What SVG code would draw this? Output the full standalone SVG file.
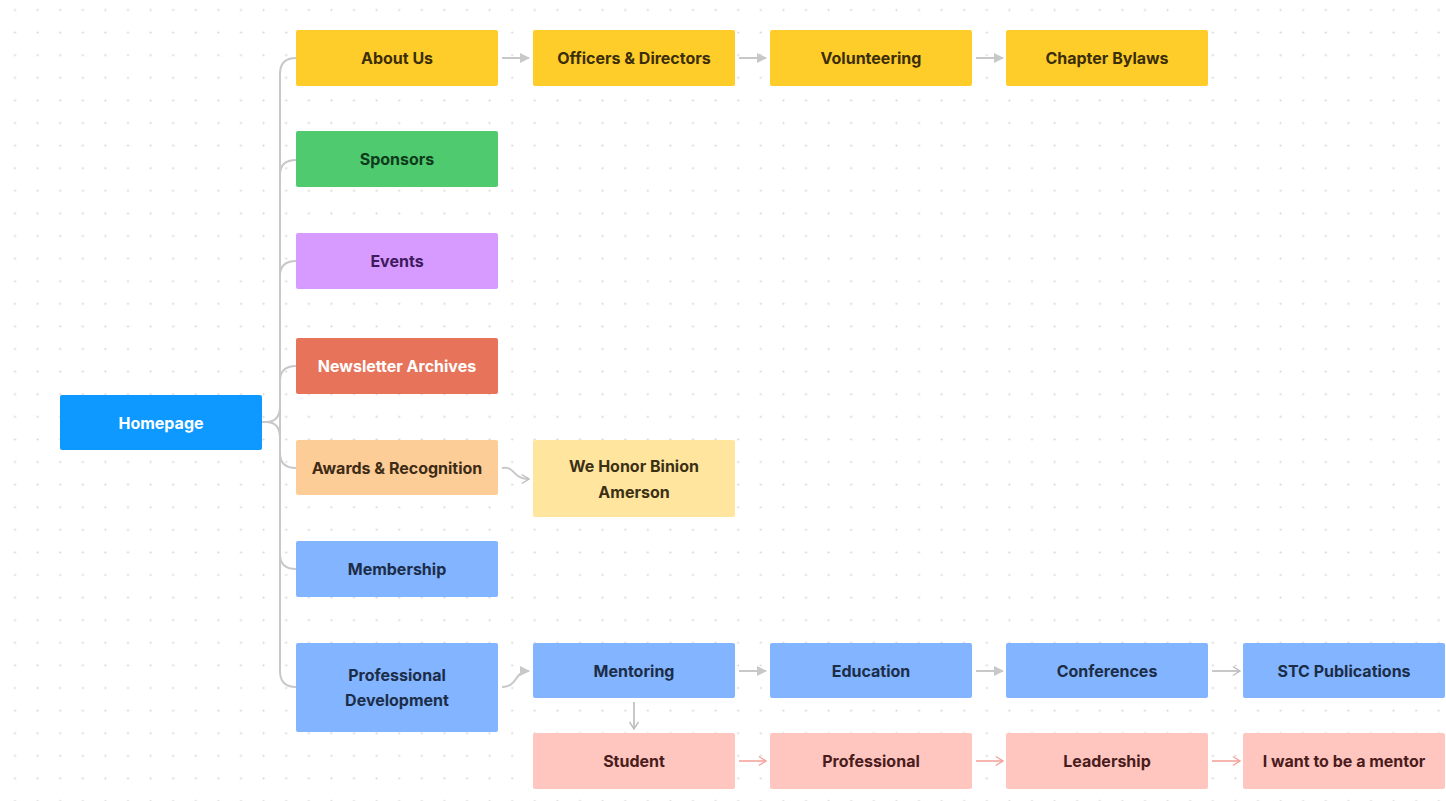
<svg xmlns="http://www.w3.org/2000/svg" width="1446" height="801" viewBox="0 0 1446 801">
  <defs>
    <pattern id="dots" x="3.7" y="-1.3" width="22.6" height="22.6" patternUnits="userSpaceOnUse">
      <circle cx="11.3" cy="11.3" r="1.1" fill="#d6d6d6"/>
    </pattern>
    <marker id="tri" viewBox="0 0 10 10" refX="9" refY="5" markerWidth="10" markerHeight="10" markerUnits="userSpaceOnUse" orient="auto">
      <path d="M0,0 L10,5 L0,10 Z" fill="#c8c8c8"/>
    </marker>
    <marker id="chev" viewBox="0 0 10 12" refX="9" refY="6" markerWidth="9" markerHeight="12" markerUnits="userSpaceOnUse" orient="auto">
      <path d="M1,1 L9,6 L1,11" fill="none" stroke="#bdbdbd" stroke-width="1.6"/>
    </marker>
    <marker id="chevp" viewBox="0 0 10 12" refX="9" refY="6" markerWidth="9" markerHeight="12" markerUnits="userSpaceOnUse" orient="auto">
      <path d="M1,1 L9,6 L1,11" fill="none" stroke="#f3a59c" stroke-width="1.6"/>
    </marker>
  </defs>
  <style>
    text { font-family: Inter, "Liberation Sans", sans-serif; font-size: 16px; font-weight: 700; text-anchor: middle; dominant-baseline: central; }
    .ln { fill: none; stroke: #c8c8c8; stroke-width: 2; }
    .lnp { fill: none; stroke: #f3a59c; stroke-width: 1.6; }
    .yellow rect { fill: #ffcd29; } .yellow text { fill: #3b2e0a; }
    .green rect { fill: #4fca6f; } .green text { fill: #0e3a1b; }
    .purple rect { fill: #d79bff; } .purple text { fill: #3d1a5c; }
    .coral rect { fill: #e8735b; } .coral text { fill: #ffffff; }
    .home rect { fill: #0d99ff; } .home text { fill: #ffffff; }
    .peach rect { fill: #fccd96; } .peach text { fill: #3e2b16; }
    .lemon rect { fill: #ffe59e; } .lemon text { fill: #3b3015; }
    .blue rect { fill: #82b4ff; } .blue text { fill: #1c2d48; }
    .pink rect { fill: #ffc5bf; } .pink text { fill: #4a1c1c; }
  </style>
  <rect width="1446" height="801" fill="#ffffff"/>
  <rect width="1446" height="801" fill="url(#dots)"/>

  <g id="connectors">
    <path class="ln" d="M296,58 Q280,58 280,74 L280,671 Q280,687 296,687"/>
    <path class="ln" d="M280,175 Q280,160 296,160"/>
    <path class="ln" d="M280,276 Q280,261 296,261"/>
    <path class="ln" d="M280,381 Q280,366 296,366"/>
    <path class="ln" d="M280,453 Q280,468 296,468"/>
    <path class="ln" d="M280,554 Q280,569 296,569"/>
    <path class="ln" d="M262,422 L266,422 Q280,422 280,406 M266,422 Q280,422 280,438"/>
    <line class="ln" x1="502" y1="58" x2="529" y2="58" marker-end="url(#tri)"/>
    <line class="ln" x1="739" y1="58" x2="766" y2="58" marker-end="url(#tri)"/>
    <line class="ln" x1="976" y1="58" x2="1003" y2="58" marker-end="url(#tri)"/>
    <path class="ln" d="M502,468 C516,466 512,479 529,479" marker-end="url(#chev)"/>
    <path class="ln" d="M502,687 C518,687 514,671 529,671" marker-end="url(#tri)"/>
    <line class="ln" x1="739" y1="671" x2="766" y2="671" marker-end="url(#tri)"/>
    <line class="ln" x1="976" y1="671" x2="1003" y2="671" marker-end="url(#tri)"/>
    <line class="ln" x1="1212" y1="671" x2="1240" y2="671" marker-end="url(#chev)"/>
    <line class="ln" x1="634" y1="702" x2="634" y2="729" marker-end="url(#chev)"/>
    <line class="lnp" x1="739" y1="761" x2="766" y2="761" marker-end="url(#chevp)"/>
    <line class="lnp" x1="976" y1="761" x2="1003" y2="761" marker-end="url(#chevp)"/>
    <line class="lnp" x1="1212" y1="761" x2="1240" y2="761" marker-end="url(#chevp)"/>
  </g>

  <g id="homepage" class="home"><rect x="60" y="395" width="202" height="55" rx="2"/><text x="161" y="422.5">Homepage</text></g>

  <g id="about-us" class="yellow"><rect x="296" y="30" width="202" height="56" rx="2"/><text x="397" y="58">About Us</text></g>
  <g id="officers" class="yellow"><rect x="533" y="30" width="202" height="56" rx="2"/><text x="634" y="58">Officers &amp; Directors</text></g>
  <g id="volunteering" class="yellow"><rect x="770" y="30" width="202" height="56" rx="2"/><text x="871" y="58">Volunteering</text></g>
  <g id="bylaws" class="yellow"><rect x="1006" y="30" width="202" height="56" rx="2"/><text x="1107" y="58">Chapter Bylaws</text></g>

  <g id="sponsors" class="green"><rect x="296" y="131" width="202" height="56" rx="2"/><text x="397" y="159">Sponsors</text></g>
  <g id="events" class="purple"><rect x="296" y="233" width="202" height="56" rx="2"/><text x="397" y="261">Events</text></g>
  <g id="newsletter" class="coral"><rect x="296" y="338" width="202" height="56" rx="2"/><text x="397" y="366">Newsletter Archives</text></g>

  <g id="awards" class="peach"><rect x="296" y="440" width="202" height="55" rx="2"/><text x="397" y="467.5">Awards &amp; Recognition</text></g>
  <g id="we-honor" class="lemon"><rect x="533" y="440" width="202" height="77" rx="2"/><text x="634" y="466">We Honor Binion</text><text x="634" y="492">Amerson</text></g>

  <g id="membership" class="blue"><rect x="296" y="541" width="202" height="56" rx="2"/><text x="397" y="569">Membership</text></g>
  <g id="prof-dev" class="blue"><rect x="296" y="643" width="202" height="89" rx="2"/><text x="397" y="675">Professional</text><text x="397" y="700">Development</text></g>

  <g id="mentoring" class="blue"><rect x="533" y="643" width="202" height="55" rx="2"/><text x="634" y="670.5">Mentoring</text></g>
  <g id="education" class="blue"><rect x="770" y="643" width="202" height="55" rx="2"/><text x="871" y="670.5">Education</text></g>
  <g id="conferences" class="blue"><rect x="1006" y="643" width="202" height="55" rx="2"/><text x="1107" y="670.5">Conferences</text></g>
  <g id="stc-publications" class="blue"><rect x="1243" y="643" width="202" height="55" rx="2"/><text x="1344" y="670.5">STC Publications</text></g>

  <g id="student" class="pink"><rect x="533" y="733" width="202" height="56" rx="2"/><text x="634" y="761">Student</text></g>
  <g id="professional" class="pink"><rect x="770" y="733" width="202" height="56" rx="2"/><text x="871" y="761">Professional</text></g>
  <g id="leadership" class="pink"><rect x="1006" y="733" width="202" height="56" rx="2"/><text x="1107" y="761">Leadership</text></g>
  <g id="mentor" class="pink"><rect x="1243" y="733" width="202" height="56" rx="2"/><text x="1344" y="761">I want to be a mentor</text></g>
</svg>
